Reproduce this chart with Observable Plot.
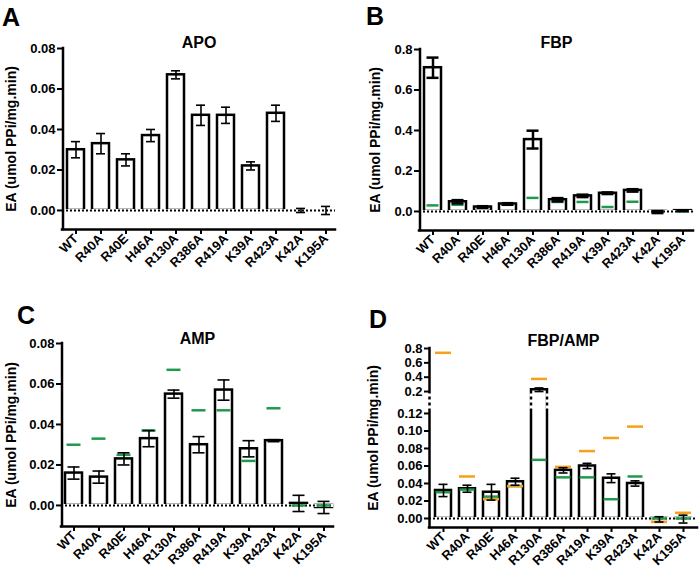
<!DOCTYPE html>
<html><head><meta charset="utf-8">
<script src="https://cdn.jsdelivr.net/npm/d3@7"></script>
<script src="https://cdn.jsdelivr.net/npm/@observablehq/plot@0.6"></script>
<style>
body{margin:0;background:#fff;}
#wrap{position:relative;width:700px;height:576px;font-family:"Liberation Sans",Arial,sans-serif;}
.panel{position:absolute;}
.letter{position:absolute;font-size:25px;font-weight:bold;line-height:1;color:#000;}
</style></head><body><div id="wrap"></div>
<script>
const mutants = ["WT","R40A","R40E","H46A","R130A","R386A","R419A","K39A","R423A","K42A","K195A"];
// APO
const apoMean = [0.030,0.033,0.025,0.037,0.067,0.047,0.047,0.022,0.048,0.000,0.000];
const apoErr  = [0.004,0.005,0.003,0.003,0.002,0.005,0.004,0.002,0.004,0.001,0.002];
// FBP
const fbpMean = [0.71,0.048,0.022,0.037,0.355,0.058,0.077,0.090,0.104,-0.003,0.004];
const fbpErr  = [0.05,0.008,0.004,0.004,0.044,0.008,0.006,0.004,0.006,0.005,0.002];
// AMP
const ampMean = [0.016,0.014,0.023,0.033,0.055,0.030,0.057,0.028,0.032,0.001,-0.001];
const ampErr  = [0.003,0.003,0.003,0.004,0.002,0.004,0.005,0.004,0.0005,0.004,0.003];
// FBP/AMP
const fbpAmpMean = [0.032,0.034,0.030,0.042,0.225,0.055,0.060,0.046,0.040,-0.001,-0.0007];
const fbpAmpErr  = [0.007,0.004,0.009,0.004,0.025,0.003,0.003,0.005,0.003,0.003,0.0045];
// orange reference marks in panel D (FBP alone)
const fbpRefD = [0.74,0.048,0.022,0.037,0.376,0.059,0.077,0.092,0.105,-0.004,0.0065];

const ticksSmall = [0, 0.02, 0.04, 0.06, 0.08];
const ticksFbp = [0, 0.2, 0.4, 0.6, 0.8];
const ticksD = [0, 0.02, 0.04, 0.06, 0.08, 0.10, 0.12, 0.2, 0.4, 0.6, 0.8];

const GREEN = "#1f9a4c", ORANGE = "#f5a11c";
const wrap = document.getElementById("wrap");

function buildPanel(cfg) {
  const {mean, err, refs = [], f = d => d, yDomain, ticks, fmt, ml, mr, mt, mb, w, h, c0, step,
         title, titleDy, labelX, capInset, errW, gap} = cfg;
  const rows = mutants.map((m, i) => ({m, base: f(0), v: f(mean[i]), lo: f(mean[i] - err[i]), hi: f(mean[i] + err[i])}));
  const yMin = yDomain[0], yMax = yDomain[1];
  const bw = step * 0.68;
  const marks = [
    Plot.barY(rows, {x: "m", y1: "base", y2: "v", fill: "white", stroke: "black", strokeWidth: 2.5}),
    Plot.ruleY([f(0)], {stroke: "white", strokeWidth: 3}),
    Plot.ruleY([f(0)], {stroke: "black", strokeWidth: 2, strokeDasharray: "2,2"})
  ];
  for (const r of refs) {
    const rr = mutants.map((m, i) => ({m, v: f(r.values[i])}));
    marks.push(Plot.tickY(rr, {x: "m", y: "v", stroke: r.color, strokeWidth: 2.5, inset: r.inset}));
  }
  marks.push(
    Plot.ruleX(rows, {x: "m", y1: "lo", y2: "hi", strokeWidth: errW}),
    Plot.tickY(rows, {x: "m", y: "lo", strokeWidth: errW, inset: capInset}),
    Plot.tickY(rows, {x: "m", y: "hi", strokeWidth: errW, inset: capInset}),
    Plot.ruleY([yMin], {strokeWidth: 2.5, strokeLinecap: "square"}),
    Plot.ruleX([mutants[0]], {dx: ml - c0, y1: yMin, y2: yMax, strokeWidth: 2.5, strokeLinecap: "square"})
  );
  if (gap) {
    const g0 = f(gap[0]), g1 = f(gap[1]);
    const dash = {y1: g0, y2: g1, stroke: "white", strokeWidth: 4, strokeDasharray: "3,3"};
    marks.push(
      Plot.ruleX([mutants[0]], {dx: ml - c0, ...dash}),
      Plot.ruleX([gap[2]], {dx: -bw / 2, ...dash}),
      Plot.ruleX([gap[2]], {dx: bw / 2, ...dash})
    );
  }
  marks.push(
    Plot.axisY({ticks: ticks.map(f), tickFormat: fmt, tickSize: 5, tickPadding: 2, strokeWidth: 2, label: null}),
    Plot.axisX({tickRotate: -45, tickSize: 5, tickPadding: 2, strokeWidth: 2, label: null}),
    Plot.text([title], {text: d => d, frameAnchor: "top", textAnchor: "middle", lineAnchor: "middle", dy: titleDy, fontSize: 16, fontWeight: "bold"}),
    Plot.text(["EA (umol PPi/mg.min)"], {text: d => d, frameAnchor: "left", textAnchor: "middle", lineAnchor: "middle", rotate: -90, dx: labelX - ml, fontSize: 14, fontWeight: "bold"})
  );
  return Plot.plot({
    width: w, height: h,
    marginLeft: ml, marginRight: mr, marginTop: mt, marginBottom: mb,
    x: {domain: mutants, range: [c0 - step / 2, c0 + step * 10.5], paddingInner: 0.32, paddingOuter: 0.16, align: 0.5},
    y: {domain: yDomain},
    style: {fontFamily: '"Liberation Sans", Arial, sans-serif', fontSize: "13px", fontWeight: "bold", color: "black", background: "transparent", overflow: "visible"},
    marks
  });
}

function place(node, left, top) {
  node.classList.add("panel");
  node.style.left = left + "px";
  node.style.top = top + "px";
  wrap.appendChild(node);
}
function letter(t, left, top) {
  const d = document.createElement("div");
  d.className = "letter"; d.textContent = t;
  d.style.left = left + "px"; d.style.top = top + "px";
  wrap.appendChild(d);
}

const f2 = d => d.toFixed(2), f1 = d => d.toFixed(1);

place(buildPanel({
  mean: apoMean, err: apoErr, yDomain: [-0.0094, 0.08], ticks: ticksSmall, fmt: f2,
  ml: 62, mr: 15, mt: 48, mb: 61, w: 350, h: 290, c0: 75, step: 25,
  title: "APO", titleDy: -6, labelX: 11, capInset: 4, errW: 1.6
}), 0, 0);

place(buildPanel({
  mean: fbpMean, err: fbpErr, refs: [{values: apoMean, color: GREEN, inset: 2.5}],
  yDomain: [-0.094, 0.8], ticks: ticksFbp, fmt: f1,
  ml: 69, mr: 7, mt: 49, mb: 60, w: 350, h: 290, c0: 82, step: 25,
  title: "FBP", titleDy: -7, labelX: 25, capInset: 2.5, errW: 2.5
}), 350, 0);

place(buildPanel({
  mean: ampMean, err: ampErr, refs: [{values: apoMean, color: GREEN, inset: 1.5}],
  yDomain: [-0.0104, 0.08], ticks: ticksSmall, fmt: f2,
  ml: 61, mr: 17, mt: 53, mb: 50, w: 350, h: 286, c0: 73, step: 25,
  title: "AMP", titleDy: -5, labelX: 11, capInset: 2.5, errW: 1.6
}), 0, 290);

// Panel D: broken y axis — a piecewise linear scale maps values to a continuous axis coordinate
const dBreak = d3.scaleLinear().domain([-0.0103, 0.125, 0.17, 0.8]).range([0, 118.4, 133.8, 179]);
place(buildPanel({
  mean: fbpAmpMean, err: fbpAmpErr, f: d => dBreak(d),
  refs: [{values: apoMean, color: GREEN, inset: 0.5}, {values: fbpRefD, color: ORANGE, inset: 0}],
  yDomain: [0, 179], ticks: ticksD,
  fmt: v => { let d = dBreak.invert(v); if (Math.abs(d) < 1e-6) d = 0; return d >= 0.15 ? d.toFixed(1) : d.toFixed(2); },
  ml: 79, mr: 3, mt: 58, mb: 49, w: 350, h: 286, c0: 93, step: 24,
  title: "FBP/AMP", titleDy: -8, labelX: 23, capInset: 3.5, errW: 1.6,
  gap: [0.125, 0.17, "R130A"]
}), 350, 290);

letter("A", 2, 5);
letter("B", 366, 4);
letter("C", 17, 303);
letter("D", 369, 307);
</script></body></html>
